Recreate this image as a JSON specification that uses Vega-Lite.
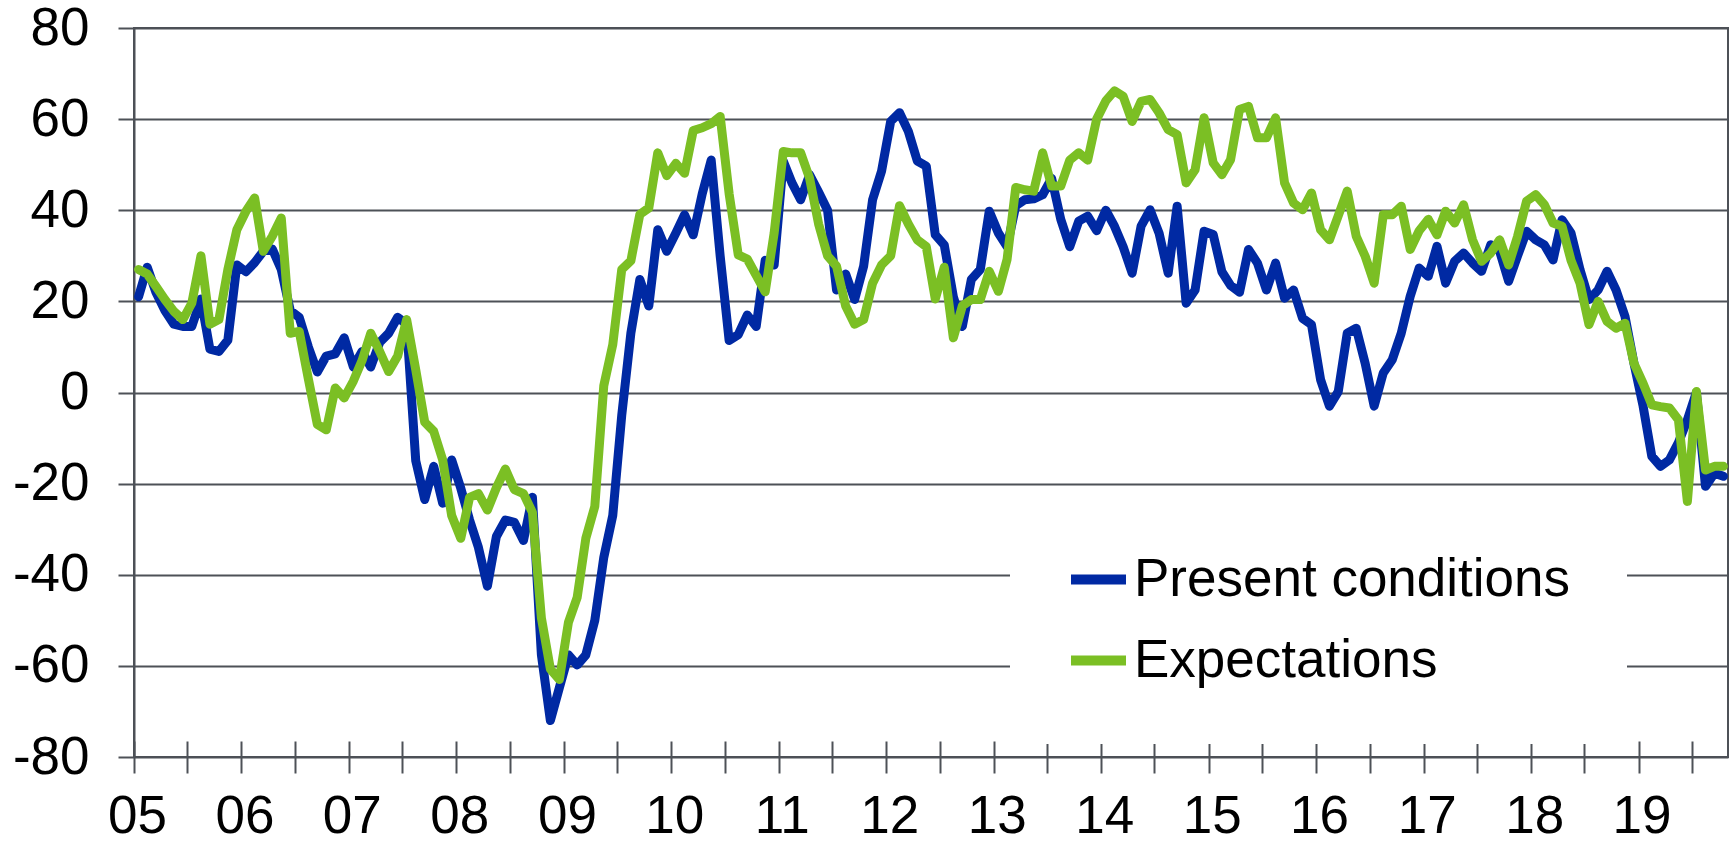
{
"$schema": "https://vega.github.io/schema/vega-lite/v6.json",
"width": 1594, "height": 729,
"autosize": {"type": "none"},
"padding": {"left": 134, "top": 28, "right": 4, "bottom": 86},
"background": "white",
"config": {"view": {"stroke": "#4d5157", "strokeWidth": 2}, "font": "Liberation Sans"},
"data": {"values": [
{"date":"2005-01","present":21,"expectations":27},
{"date":"2005-02","present":27.5,"expectations":26},
{"date":"2005-03","present":22,"expectations":23.3},
{"date":"2005-04","present":18,"expectations":20.4},
{"date":"2005-05","present":15,"expectations":17.8},
{"date":"2005-06","present":14.5,"expectations":16},
{"date":"2005-07","present":14.5,"expectations":19.6},
{"date":"2005-08","present":20.5,"expectations":30},
{"date":"2005-09","present":9.5,"expectations":15},
{"date":"2005-10","present":9,"expectations":16},
{"date":"2005-11","present":11.5,"expectations":27},
{"date":"2005-12","present":28,"expectations":35.7},
{"date":"2006-01","present":26.5,"expectations":39.8},
{"date":"2006-02","present":28.5,"expectations":42.7},
{"date":"2006-03","present":31,"expectations":31},
{"date":"2006-04","present":31.5,"expectations":34.3},
{"date":"2006-05","present":27,"expectations":38.3},
{"date":"2006-06","present":18,"expectations":13},
{"date":"2006-07","present":16.5,"expectations":13.4},
{"date":"2006-08","present":10,"expectations":3},
{"date":"2006-09","present":4.5,"expectations":-7},
{"date":"2006-10","present":8,"expectations":-8.2},
{"date":"2006-11","present":8.5,"expectations":1},
{"date":"2006-12","present":12,"expectations":-1.2},
{"date":"2007-01","present":5.6,"expectations":2.5},
{"date":"2007-02","present":9,"expectations":7},
{"date":"2007-03","present":5.6,"expectations":13},
{"date":"2007-04","present":11,"expectations":9},
{"date":"2007-05","present":13,"expectations":4.6},
{"date":"2007-06","present":16.5,"expectations":8},
{"date":"2007-07","present":15,"expectations":16},
{"date":"2007-08","present":-15,"expectations":5},
{"date":"2007-09","present":-23.5,"expectations":-6.5},
{"date":"2007-10","present":-16.2,"expectations":-8.5},
{"date":"2007-11","present":-24.3,"expectations":-14.8},
{"date":"2007-12","present":-14.8,"expectations":-27},
{"date":"2008-01","present":-21,"expectations":-32},
{"date":"2008-02","present":-28,"expectations":-23},
{"date":"2008-03","present":-34,"expectations":-22.2},
{"date":"2008-04","present":-42.5,"expectations":-25.8},
{"date":"2008-05","present":-31.6,"expectations":-20.9},
{"date":"2008-06","present":-28,"expectations":-16.8},
{"date":"2008-07","present":-28.5,"expectations":-21.3},
{"date":"2008-08","present":-32.5,"expectations":-22.2},
{"date":"2008-09","present":-23,"expectations":-26.3},
{"date":"2008-10","present":-57.6,"expectations":-49.5},
{"date":"2008-11","present":-72,"expectations":-60.7},
{"date":"2008-12","present":-64.8,"expectations":-63},
{"date":"2009-01","present":-57.6,"expectations":-50.4},
{"date":"2009-02","present":-59.8,"expectations":-45},
{"date":"2009-03","present":-57.6,"expectations":-32},
{"date":"2009-04","present":-50,"expectations":-25},
{"date":"2009-05","present":-36.2,"expectations":1.5},
{"date":"2009-06","present":-27,"expectations":10.5},
{"date":"2009-07","present":-5,"expectations":27},
{"date":"2009-08","present":13,"expectations":28.9},
{"date":"2009-09","present":24.8,"expectations":39.1},
{"date":"2009-10","present":19,"expectations":40.5},
{"date":"2009-11","present":35.7,"expectations":52.6},
{"date":"2009-12","present":31,"expectations":47.6},
{"date":"2010-01","present":35,"expectations":50.3},
{"date":"2010-02","present":39,"expectations":48.1},
{"date":"2010-03","present":34.6,"expectations":57.5},
{"date":"2010-04","present":43.6,"expectations":58.1},
{"date":"2010-05","present":51,"expectations":59},
{"date":"2010-06","present":30,"expectations":60.6},
{"date":"2010-07","present":11.4,"expectations":43.6},
{"date":"2010-08","present":12.7,"expectations":30.2},
{"date":"2010-09","present":17,"expectations":29.3},
{"date":"2010-10","present":14.5,"expectations":25.7},
{"date":"2010-11","present":29,"expectations":22.1},
{"date":"2010-12","present":28,"expectations":35},
{"date":"2011-01","present":50.8,"expectations":52.9},
{"date":"2011-02","present":46,"expectations":52.6},
{"date":"2011-03","present":42.3,"expectations":52.6},
{"date":"2011-04","present":47.8,"expectations":47},
{"date":"2011-05","present":44,"expectations":37},
{"date":"2011-06","present":40,"expectations":30},
{"date":"2011-07","present":22.5,"expectations":27.7},
{"date":"2011-08","present":26,"expectations":19},
{"date":"2011-09","present":20.4,"expectations":15},
{"date":"2011-10","present":27.7,"expectations":16},
{"date":"2011-11","present":42.3,"expectations":24},
{"date":"2011-12","present":48.6,"expectations":28},
{"date":"2012-01","present":59.5,"expectations":30},
{"date":"2012-02","present":61.4,"expectations":41},
{"date":"2012-03","present":57.3,"expectations":37},
{"date":"2012-04","present":50.8,"expectations":33.5},
{"date":"2012-05","present":49.7,"expectations":32},
{"date":"2012-06","present":34.6,"expectations":20.5},
{"date":"2012-07","present":32.4,"expectations":27.5},
{"date":"2012-08","present":21,"expectations":12},
{"date":"2012-09","present":14.5,"expectations":19},
{"date":"2012-10","present":24.8,"expectations":20.4},
{"date":"2012-11","present":27,"expectations":20.4},
{"date":"2012-12","present":39.8,"expectations":26.6},
{"date":"2013-01","present":35,"expectations":22.2},
{"date":"2013-02","present":32,"expectations":29.2},
{"date":"2013-03","present":41,"expectations":45},
{"date":"2013-04","present":42.3,"expectations":44.5},
{"date":"2013-05","present":42.5,"expectations":44.2},
{"date":"2013-06","present":43.4,"expectations":52.6},
{"date":"2013-07","present":47,"expectations":45.3},
{"date":"2013-08","present":38,"expectations":45.3},
{"date":"2013-09","present":32,"expectations":51},
{"date":"2013-10","present":37.6,"expectations":52.6},
{"date":"2013-11","present":38.7,"expectations":51},
{"date":"2013-12","present":35.5,"expectations":60},
{"date":"2014-01","present":40,"expectations":64},
{"date":"2014-02","present":36.5,"expectations":66.2},
{"date":"2014-03","present":32,"expectations":65},
{"date":"2014-04","present":26.2,"expectations":59.5},
{"date":"2014-05","present":36.5,"expectations":63.9},
{"date":"2014-06","present":40.1,"expectations":64.3},
{"date":"2014-07","present":35,"expectations":61.4},
{"date":"2014-08","present":26.2,"expectations":57.7},
{"date":"2014-09","present":40.9,"expectations":56.6},
{"date":"2014-10","present":19.6,"expectations":46},
{"date":"2014-11","present":22.5,"expectations":48.9},
{"date":"2014-12","present":35.4,"expectations":60.3},
{"date":"2015-01","present":34.7,"expectations":50.4},
{"date":"2015-02","present":26.5,"expectations":47.8},
{"date":"2015-03","present":23.5,"expectations":51.1},
{"date":"2015-04","present":22,"expectations":62.1},
{"date":"2015-05","present":31.4,"expectations":62.8},
{"date":"2015-06","present":28.4,"expectations":55.9},
{"date":"2015-07","present":22.5,"expectations":55.9},
{"date":"2015-08","present":28.4,"expectations":60.3},
{"date":"2015-09","present":20.7,"expectations":46},
{"date":"2015-10","present":22.5,"expectations":41.6},
{"date":"2015-11","present":16.3,"expectations":40.1},
{"date":"2015-12","present":14.9,"expectations":43.8},
{"date":"2016-01","present":2.8,"expectations":35.7},
{"date":"2016-02","present":-3,"expectations":33.5},
{"date":"2016-03","present":0.2,"expectations":38.8},
{"date":"2016-04","present":13,"expectations":44.2},
{"date":"2016-05","present":14.1,"expectations":34.3},
{"date":"2016-06","present":6.4,"expectations":29.9},
{"date":"2016-07","present":-3,"expectations":24},
{"date":"2016-08","present":4.3,"expectations":39},
{"date":"2016-09","present":7.2,"expectations":39},
{"date":"2016-10","present":13,"expectations":40.9},
{"date":"2016-11","present":21.1,"expectations":31.4},
{"date":"2016-12","present":27.3,"expectations":35.5},
{"date":"2017-01","present":25.5,"expectations":38},
{"date":"2017-02","present":32.1,"expectations":34.6},
{"date":"2017-03","present":24,"expectations":39.8},
{"date":"2017-04","present":28.8,"expectations":37.2},
{"date":"2017-05","present":30.6,"expectations":41.2},
{"date":"2017-06","present":28.4,"expectations":33.5},
{"date":"2017-07","present":26.6,"expectations":28.8},
{"date":"2017-08","present":32.4,"expectations":30.6},
{"date":"2017-09","present":31,"expectations":33.5},
{"date":"2017-10","present":24.4,"expectations":28},
{"date":"2017-11","present":30,"expectations":34.3},
{"date":"2017-12","present":35.4,"expectations":42},
{"date":"2018-01","present":33.5,"expectations":43.4},
{"date":"2018-02","present":32.4,"expectations":41.2},
{"date":"2018-03","present":29.1,"expectations":37.2},
{"date":"2018-04","present":37.9,"expectations":36.5},
{"date":"2018-05","present":35,"expectations":29},
{"date":"2018-06","present":27,"expectations":24},
{"date":"2018-07","present":20.4,"expectations":14.9},
{"date":"2018-08","present":22.5,"expectations":20},
{"date":"2018-09","present":26.6,"expectations":15.6},
{"date":"2018-10","present":22.5,"expectations":14.1},
{"date":"2018-11","present":16.7,"expectations":15.2},
{"date":"2018-12","present":6.4,"expectations":6.4},
{"date":"2019-01","present":-3,"expectations":2},
{"date":"2019-02","present":-14,"expectations":-2.7},
{"date":"2019-03","present":-16.2,"expectations":-3.1},
{"date":"2019-04","present":-14.8,"expectations":-3.4},
{"date":"2019-05","present":-11,"expectations":-6},
{"date":"2019-06","present":-6,"expectations":-23.9},
{"date":"2019-07","present":0,"expectations":0.2},
{"date":"2019-08","present":-20.6,"expectations":-17},
{"date":"2019-09","present":-17.7,"expectations":-16.2},
{"date":"2019-10","present":-18.4,"expectations":-16.2}
]},
"transform": [{"fold": ["present", "expectations"], "as": ["series", "value"]}],
"mark": {"type": "line", "strokeWidth": 9, "strokeJoin": "round", "strokeCap": "round"},
"encoding": {
  "x": {"field": "date", "type": "temporal", "timeUnit": "utcyearmonth", "bandPosition": 0.5,
    "scale": {"domain": [{"year": 2005, "month": 1, "date": 1, "utc": true}, {"year": 2019, "month": 11, "date": 1, "utc": true}]},
    "axis": {"title": null, "domain": false, "offset": -16, "tickSize": 32, "tickWidth": 2, "tickColor": "#4d5157", "grid": false,
      "tickCount": {"interval": "month", "step": 6},
      "labelExpr": "utcmonth(datum.value) == 0 ? utcFormat(datum.value, '%y') : ''",
      "labelFontSize": 53, "labelColor": "black", "labelPadding": 17, "labelFlush": false, "labelOverlap": false, "labelOffset": 3, "labelBaseline": "top"}},
  "y": {"field": "value", "type": "quantitative", "scale": {"domain": [-80, 80], "nice": false},
    "axis": {"title": null, "values": [-80, -60, -40, -20, 0, 20, 40, 60, 80], "grid": true, "gridColor": "#4d5157", "gridWidth": 2,
      "domain": true, "domainColor": "#4d5157", "domainWidth": 2, "tickSize": 16, "tickWidth": 2, "tickColor": "#4d5157",
      "labelFontSize": 53, "labelColor": "black", "labelPadding": 29, "labelExpr": "datum.value + ''"}},
  "color": {"field": "series", "type": "nominal",
    "scale": {"domain": ["present", "expectations"], "range": ["#0029a3", "#7bbf24"]},
    "legend": {"title": null, "orient": "none", "legendX": 876, "legendY": 463, "fillColor": "white", "padding": 56,
      "symbolType": "stroke", "symbolSize": 3025, "symbolStrokeWidth": 10, "labelFontSize": 53, "labelColor": "black",
      "labelOffset": 3, "rowPadding": 21, "labelLimit": 1000,
      "labelExpr": "datum.value == 'present' ? 'Present conditions' : 'Expectations'"}}
}
}
